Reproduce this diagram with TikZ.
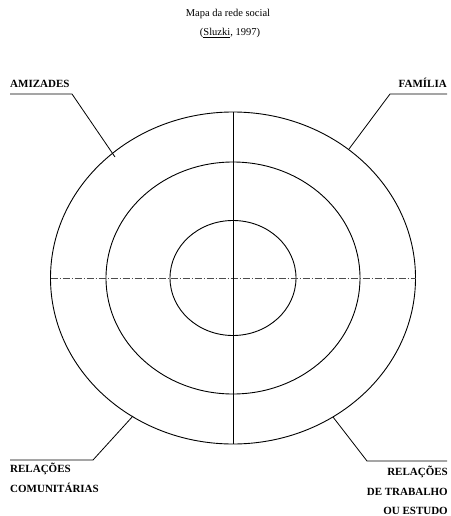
\documentclass[tikz,border=0pt]{standalone}
\usepackage{fontspec}
\setmainfont{Liberation Serif}
\begin{document}
\begin{tikzpicture}[x=1pt,y=-1pt,
  ring/.style={draw=black,line width=0.9pt},
  axisv/.style={draw=black,line width=0.9pt},
  axish/.style={draw=black!70,line width=0.5pt,dash pattern=on 7pt off 2pt on 1pt off 2pt},
  conn/.style={draw=black,line width=0.8pt},
  lab/.style={font=\bfseries\fontsize{11}{19.5}\selectfont,inner sep=0pt},
  ttl/.style={font=\fontsize{10.5}{12}\selectfont,inner sep=0pt}]
\useasboundingbox (0,0) rectangle (450,516);
% title
\node[ttl,anchor=base] (t1) at (228,17) {Mapa da rede social};
\node[ttl,anchor=base] (t2) at (230,36) {(\underline{Sluzki}, 1997)};
% rings
\coordinate (c) at (233,278);
\draw[ring] (c) ellipse [x radius=182.5, y radius=166];
\draw[ring] (c) ellipse [x radius=127, y radius=116];
\draw[ring] (c) ellipse [x radius=63, y radius=57.5];
% axes
\coordinate (vt) at (233,112);
\coordinate (vb) at (233,444);
\coordinate (hl) at (50.5,278);
\coordinate (hr) at (415.5,278);
\draw[axish] (hl) -- (hr);
\draw[axisv] (vt) -- (vb);
% labels
\node[lab,anchor=base west] (ami) at (10,88) {AMIZADES};
\node[lab,anchor=base east] (fam) at (447,88) {FAMÍLIA};
\node[lab,anchor=north west,align=left] (com) at (10,463) {RELAÇÕES\\COMUNITÁRIAS};
\node[lab,anchor=north east,align=right] (trab) at (448,466) {RELAÇÕES\\DE TRABALHO\\OU ESTUDO};
% connectors
\coordinate (amiL) at (10,94);
\coordinate (amiR) at (72,94);
\coordinate (amiE) at (115,157);
\coordinate (famL) at (390,94);
\coordinate (famR) at (447,94);
\coordinate (famE) at (349,149);
\coordinate (comL) at (10,460);
\coordinate (comR) at (93,460);
\coordinate (comE) at (133,416);
\coordinate (traL) at (367,461);
\coordinate (traR) at (447,461);
\coordinate (traE) at (333,417);
\draw[conn] (amiL) -- (amiR) -- (amiE);
\draw[conn] (famR) -- (famL) -- (famE);
\draw[conn] (comL) -- (comR) -- (comE);
\draw[conn] (traR) -- (traL) -- (traE);
\end{tikzpicture}
\end{document}
